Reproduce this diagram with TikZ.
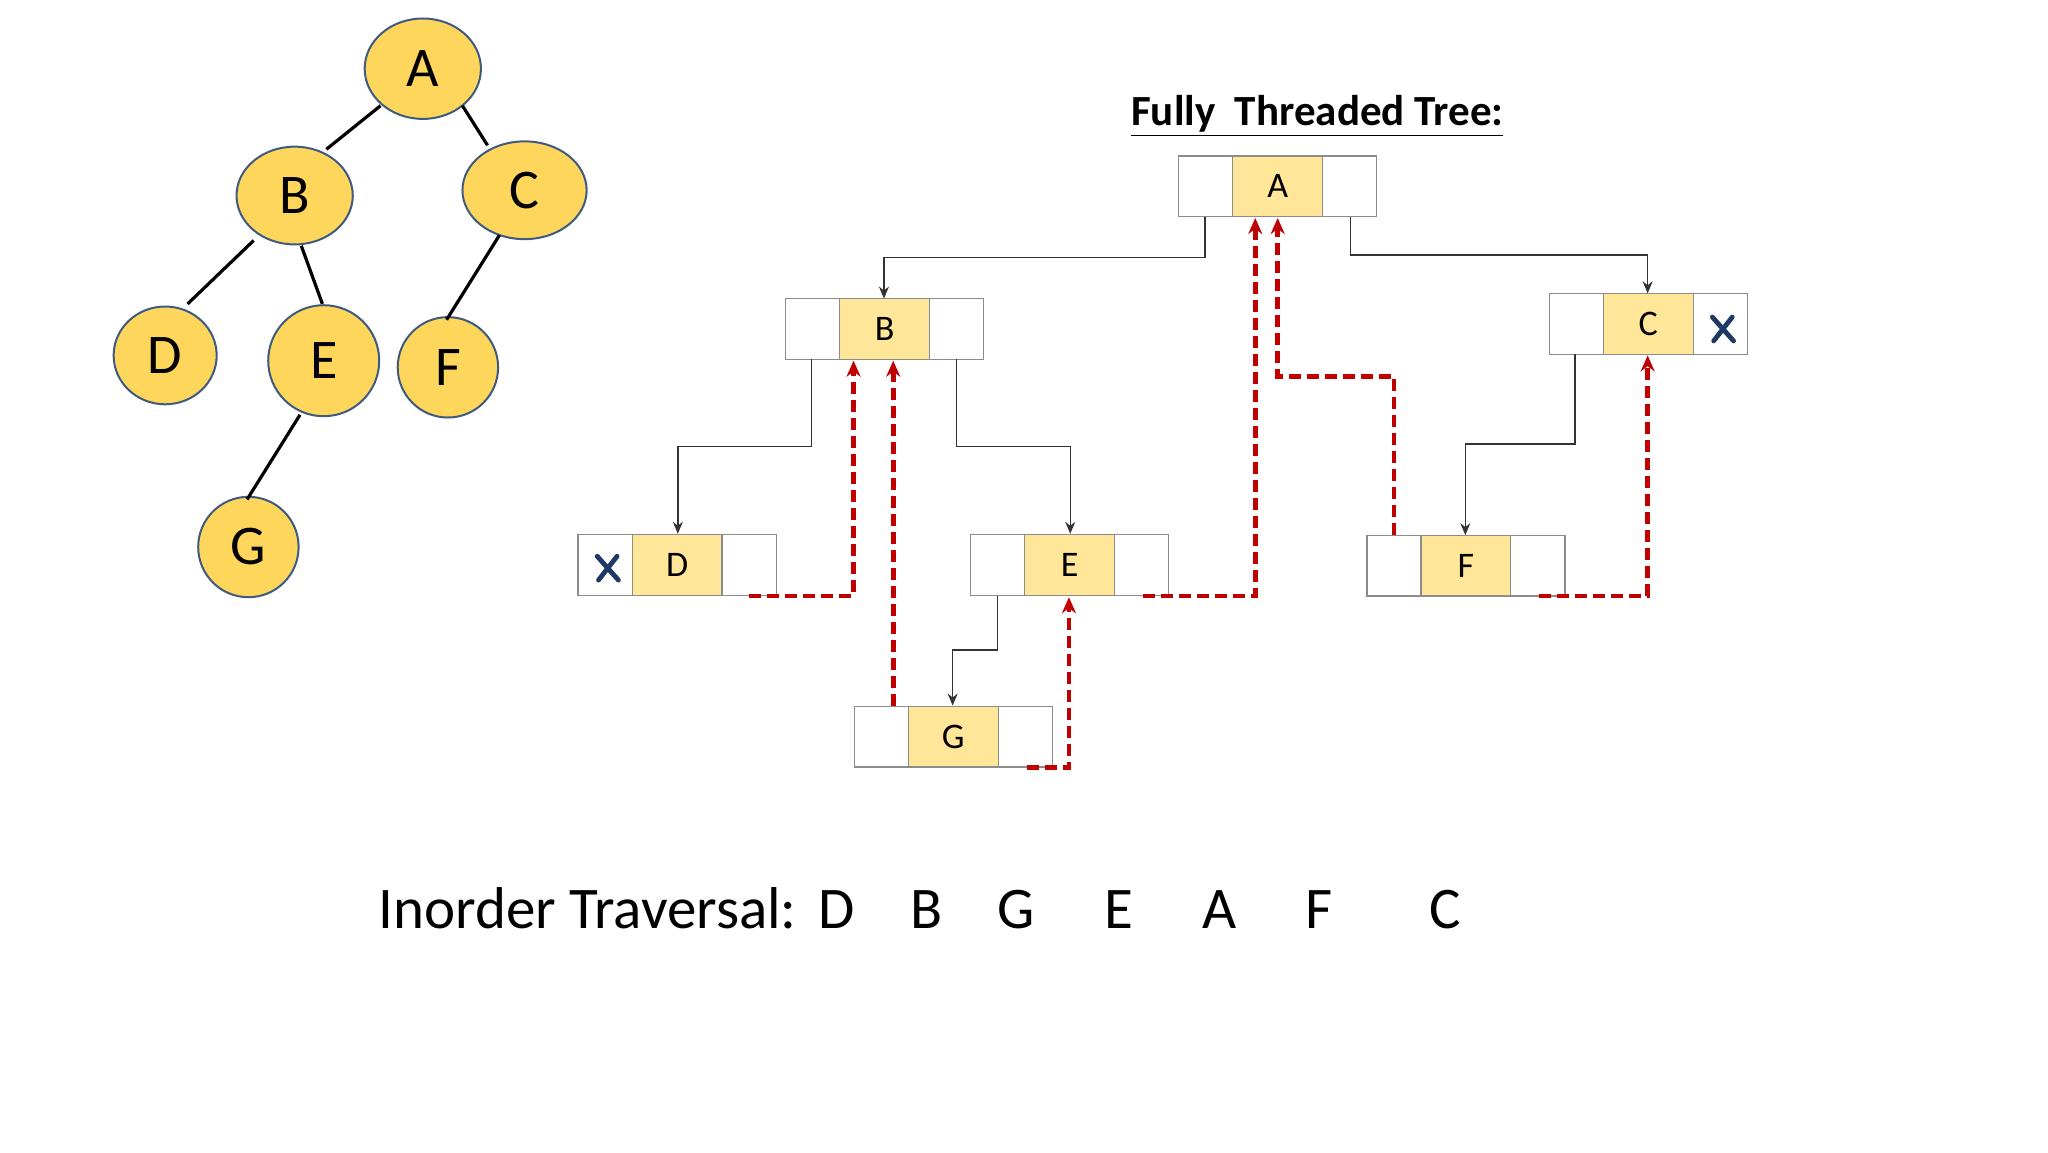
\documentclass[tikz,border=0pt]{standalone}
\usepackage{fontspec}
\setmainfont{Carlito}
\usetikzlibrary{shapes.geometric,arrows.meta}
\definecolor{cfill}{HTML}{FFD65C}
\definecolor{cedge}{HTML}{3E5A80}
\definecolor{mfill}{HTML}{FFE699}
\definecolor{thr}{HTML}{C00000}
\definecolor{xcol}{HTML}{1F3864}
\tikzset{
  circ/.style={ellipse,draw=cedge,fill=cfill,line width=1pt,inner sep=0pt,font=\fontsize{28}{30}\selectfont},
  cellw/.style={draw=black!45,line width=0.6pt,minimum width=27.1pt,minimum height=30.4pt,inner sep=0pt,outer sep=0pt},
  cellm/.style={draw=black!45,fill=mfill,line width=0.6pt,minimum width=44.9pt,minimum height=30.4pt,inner sep=0pt,outer sep=0pt,font=\fontsize{18}{20}\selectfont},
  tedge/.style={line width=1.6pt},
  link/.style={draw=black!80,line width=0.7pt,-{Stealth[length=6pt,width=5pt]}},
  thread/.style={draw=thr,line width=2.4pt,dash pattern=on 6pt off 3pt,-{Stealth[length=8pt,width=7pt]}},
  xmark/.style={draw=xcol,line width=2.4pt,line cap=round}
}
\begin{document}
\begin{tikzpicture}[x=0.66075pt,y=-0.66075pt]
\useasboundingbox (0,0) rectangle (1550,872);
% simple tree
\node[circ,minimum width=88pt*0.66075,minimum height=76pt*0.66075] (tA) at (320,52) {A};
\node[circ,minimum width=88pt*0.66075,minimum height=74pt*0.66075] (tB) at (223,148) {B};
\node[circ,minimum width=94pt*0.66075,minimum height=74pt*0.66075] (tC) at (397,144) {C};
\node[circ,minimum width=78pt*0.66075,minimum height=74pt*0.66075] (tD) at (125,269) {D};
\node[circ,minimum width=84pt*0.66075,minimum height=84pt*0.66075] (tE) at (245,273) {E};
\node[circ,minimum width=76pt*0.66075,minimum height=76pt*0.66075] (tF) at (339,278) {F};
\node[circ,minimum width=76pt*0.66075,minimum height=76pt*0.66075] (tG) at (188,414) {G};
\draw[tedge] (288,80) -- (247,113);
\draw[tedge] (350,80) -- (369,110);
\draw[tedge] (192,182) -- (142,230);
\draw[tedge] (228,186) -- (244,230);
\draw[tedge] (378,178) -- (338,242);
\draw[tedge] (227,314) -- (187,378);
% title
\node[font=\bfseries\fontsize{21.5}{23}\selectfont,anchor=base] (title) at (997,95) {\underline{Fully\ \ Threaded Tree:}};
% records
\foreach \n/\cx/\cy in {A/967/141, B/669.5/249, C/1247.5/245, D/512.5/427.5, E/809.5/427.5, F/1109.5/428, G/721.5/557.5}{
  \node[cellm] (\n m) at (\cx,\cy) {\n};
  \node[cellw,anchor=east] (\n l) at (\n m.west) {};
  \node[cellw,anchor=west] (\n r) at (\n m.east) {};
}
% child links
\draw[link] (912,164) -- (912,195) -- (669,195) -- (669,226);
\draw[link] (1022,164) -- (1022,193) -- (1247,193) -- (1247,222);
\draw[link] (614,272) -- (614,338) -- (513,338) -- (513,404);
\draw[link] (724,272) -- (724,338) -- (810,338) -- (810,404);
\draw[link] (1192,268) -- (1192,336) -- (1109,336) -- (1109,405);
\draw[link] (755,451) -- (755,492) -- (721,492) -- (721,534);
% threads
\draw[thread] (567,451) -- (646,451) -- (646,273);
\draw[thread] (676,534) -- (676,273);
\draw[thread] (865,451) -- (950,451) -- (950,165);
\draw[thread] (777,581) -- (809,581) -- (809,452);
\draw[thread] (1055,405) -- (1055,285) -- (967,285) -- (967,165);
\draw[thread] (1165,451) -- (1247,451) -- (1247,269);
% X marks
\coordinate (x1) at (460,430);
\coordinate (x2) at (1304,249);
\foreach \p in {x1,x2}{
  \draw[xmark] ([shift={(-8,-9)}]\p) -- ([shift={(8,9)}]\p);
  \draw[xmark] ([shift={(7,-9)}]\p) -- ([shift={(-7,9)}]\p);
}
% traversal
\node[font=\fontsize{29.5}{32}\selectfont,anchor=base west,inner sep=0pt] (trav) at (286,703) {Inorder Traversal:};
\foreach \l/\x in {D/633, B/701, G/769, E/847, A/923, F/998, C/1094}{
  \node[font=\fontsize{29.5}{32}\selectfont,anchor=base,inner sep=0pt] (o\l) at (\x,703) {\l};
}
\end{tikzpicture}
\end{document}
